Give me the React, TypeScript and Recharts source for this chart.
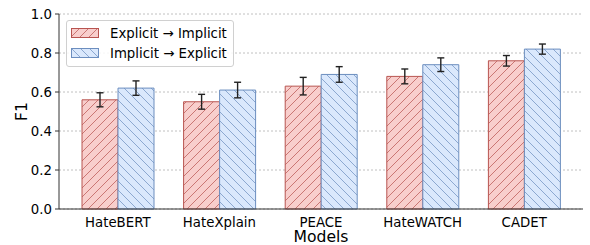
import React from 'react';
import { BarChart, Bar, XAxis, YAxis, CartesianGrid, ErrorBar, Legend } from 'recharts';

const models = ['HateBERT', 'HateXplain', 'PEACE', 'HateWATCH', 'CADET'];
const explicitToImplicit = [0.56, 0.55, 0.63, 0.68, 0.76];
const explicitToImplicitErr = [0.036, 0.038, 0.045, 0.038, 0.027];
const implicitToExplicit = [0.62, 0.61, 0.69, 0.74, 0.82];
const implicitToExplicitErr = [0.037, 0.04, 0.04, 0.035, 0.026];
const yTicks = [0, 0.2, 0.4, 0.6, 0.8, 1.0];

const FONT = 'DejaVu Sans, sans-serif';
const RED_FILL = '#f8cecc';
const RED_EDGE = '#b85450';
const BLUE_FILL = '#dae8fc';
const BLUE_EDGE = '#6c8ebf';

const data = models.map((m, i) => ({
  model: m,
  e2i: explicitToImplicit[i],
  e2iErr: explicitToImplicitErr[i],
  i2e: implicitToExplicit[i],
  i2eErr: implicitToExplicitErr[i],
}));

// hatch patterns, "//" for red and "\\" for blue
function HatchDefs({ prefix }: { prefix: string }) {
  const s = 9;
  return (
    <defs>
      <pattern id={`${prefix}-red`} patternUnits="userSpaceOnUse" width={s} height={s}>
        <rect width={s} height={s} fill={RED_FILL} />
        <path d={`M0,${s} L${s},0 M-2,2 L2,-2 M${s - 2},${s + 2} L${s + 2},${s - 2}`} stroke={RED_EDGE} strokeWidth={0.9} strokeOpacity={0.8} />
      </pattern>
      <pattern id={`${prefix}-blue`} patternUnits="userSpaceOnUse" width={s} height={s}>
        <rect width={s} height={s} fill={BLUE_FILL} />
        <path d={`M0,0 L${s},${s} M-2,${s - 2} L2,${s + 2} M${s - 2},-2 L${s + 2},2`} stroke={BLUE_EDGE} strokeWidth={0.9} strokeOpacity={0.8} />
      </pattern>
    </defs>
  );
}

const legendItems = [
  { label: 'Explicit → Implicit', pat: 'red', edge: RED_EDGE },
  { label: 'Implicit → Explicit', pat: 'blue', edge: BLUE_EDGE },
];

function LegendBox() {
  return (
    <div
      style={{
        background: 'rgba(255,255,255,0.85)',
        border: '1px solid #d0d0d0',
        borderRadius: 3,
        padding: '2px 6px 3px 4px',
        fontFamily: FONT,
        fontSize: 13.3,
        color: '#000',
        whiteSpace: 'nowrap',
        display: 'inline-block',
      }}
    >
      {legendItems.map((it) => (
        <div key={it.pat} style={{ display: 'flex', alignItems: 'center', height: 20 }}>
          <svg width={28} height={10} style={{ marginRight: 11 }}>
            <HatchDefs prefix={`lg-${it.pat}`} />
            <rect x={0.5} y={0.5} width={27} height={9} fill={`url(#lg-${it.pat}-${it.pat})`} stroke={it.edge} />
          </svg>
          <span>{it.label}</span>
        </div>
      ))}
    </div>
  );
}

export default function App() {
  return (
    <div style={{ position: 'absolute', left: 0, top: 0, background: '#fff' }}>
      <BarChart
        width={590}
        height={245}
        data={data}
        margin={{ top: 14, right: 7, bottom: 0, left: 0 }}
        barGap={0}
      >
        <HatchDefs prefix="ch" />
        <CartesianGrid vertical={false} stroke="#b0b0b0" strokeDasharray="2 2" strokeWidth={0.8} />
        <XAxis
          dataKey="model"
          height={36}
          padding={{ left: 8, right: 8 }}
          tick={{ fontFamily: FONT, fontSize: 13.3, fill: '#000' }}
          tickLine={false}
          tickMargin={3}
          axisLine={{ stroke: '#333', strokeWidth: 1 }}
          label={{ value: 'Models', position: 'insideBottom', offset: 3, fontFamily: FONT, fontSize: 15.6, fill: '#000' }}
        />
        <XAxis xAxisId="top" orientation="top" dataKey="model" height={0} tick={false} tickLine={false} axisLine={{ stroke: '#333' }} />
        <YAxis
          domain={[0, 1]}
          ticks={yTicks}
          width={59}
          tickFormatter={(v: number) => v.toFixed(1)}
          tick={{ fontFamily: FONT, fontSize: 13.3, fill: '#000' }}
          tickSize={4}
          tickMargin={3}
          tickLine={{ stroke: '#333' }}
          axisLine={{ stroke: '#333', strokeWidth: 1 }}
          label={{ value: 'F1', angle: -90, position: 'center', dx: -8, fontFamily: FONT, fontSize: 15.6, fill: '#000' }}
        />
        <YAxis yAxisId="right" orientation="right" width={0} tick={false} tickLine={false} axisLine={{ stroke: '#333' }} />
        <Legend
          verticalAlign="top"
          align="left"
          content={() => <LegendBox />}
          wrapperStyle={{ top: 20, left: 66, width: 0, height: 0, overflow: 'visible' }}
        />
        <Bar dataKey="e2i" name="Explicit → Implicit" barSize={36} fill="url(#ch-red)" stroke={RED_EDGE} strokeWidth={1} isAnimationActive={false}>
          <ErrorBar dataKey="e2iErr" width={3.5} stroke="#222" strokeWidth={1.4} />
        </Bar>
        <Bar dataKey="i2e" name="Implicit → Explicit" barSize={36} fill="url(#ch-blue)" stroke={BLUE_EDGE} strokeWidth={1} isAnimationActive={false}>
          <ErrorBar dataKey="i2eErr" width={3.5} stroke="#222" strokeWidth={1.4} />
        </Bar>
      </BarChart>
    </div>
  );
}
